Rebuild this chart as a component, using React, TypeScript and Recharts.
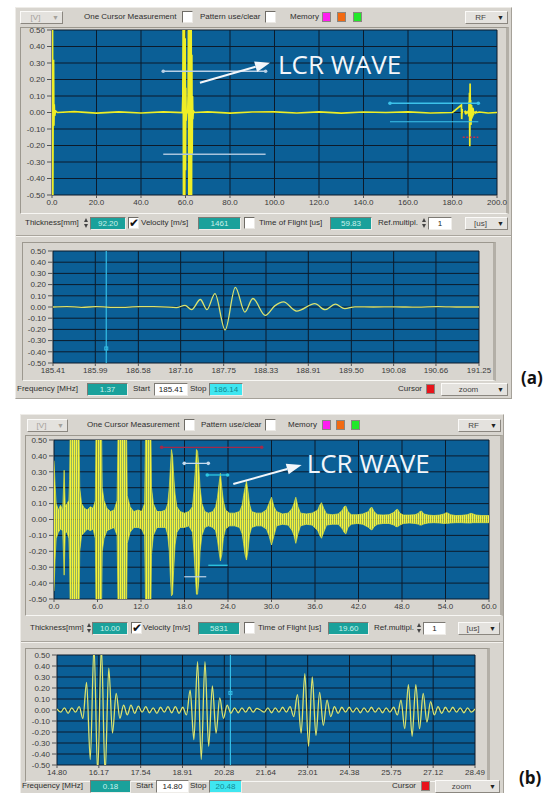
import React from 'react';
import {
  ComposedChart,
  Line,
  Area,
  XAxis,
  YAxis,
  CartesianGrid,
  ReferenceLine,
  ReferenceDot,
} from 'recharts';

// ---- panel (a), full A-scan 0..200 us: start pulse, echo pair near 60 us, small echo near 184 us
const scanATimes = [
  0, 0.12, 0.24, 0.36, 0.5, 0.7, 0.85, 1.0, 1.2, 1.6, 2.4, 10, 20, 30, 40, 50,
  58.6, 58.8, 58.95, 59.1, 59.25, 59.4, 59.55, 59.7, 59.85, 60.0, 60.15, 60.3, 60.5,
  61.0, 61.2, 61.35, 61.5, 61.65, 61.8, 61.95, 62.1, 62.25, 62.4, 62.55, 62.7, 62.85,
  63.0, 63.15, 63.3, 63.5, 64.0, 70, 80, 90, 100, 110, 120, 130, 140, 150, 160, 170,
  180, 184.0, 184.15, 184.3, 184.45, 184.6, 185.0,
];
const scanAValues = [
  0.58, -0.58, 0.58, -0.58, 0.04, 0.32, -0.08, 0.05, -0.02, 0.01, 0, 0.005, -0.004, 0.004, -0.003, 0.004,
  0, 0.1, 0.58, -0.58, 0.58, -0.58, 0.58, -0.58, 0.45, -0.35, 0.15, -0.05, 0.005,
  0, 0.12, 0.58, -0.58, 0.58, -0.58, 0.58, -0.58, 0.58, -0.58, 0.5, -0.58,
  0.35, -0.25, 0.1, -0.04, 0.01, 0, 0.004, -0.004, 0.003, 0.004, -0.003, 0.004, -0.004, 0.003, 0, 0.004,
  -0.003, 0, 0.045, -0.04, 0.02, 0, 0.003,
];
const scanATailTimes = [192, 196, 200];
const scanATailValues = [0.003, -0.003, 0];
const scanATicks = [0, 20, 40, 60, 80, 100, 120, 140, 160, 180, 200];

// ---- panel (a), zoom window 185.41..191.25 us (LCR echo)
const zoomATimes = [
  185.41, 185.6, 185.8, 186.0, 186.3, 186.6, 186.9, 187.1, 187.22, 187.31, 187.43, 187.52,
  187.63, 187.77, 187.91, 188.04, 188.15, 188.32, 188.45, 188.57, 188.75, 189.0, 189.14,
  189.28, 189.41, 189.55, 189.8, 190.1, 190.4, 190.69, 191.0, 191.25,
];
const zoomAValues = [
  0, 0.004, -0.003, 0.003, -0.004, 0.003, 0.002, -0.006, 0.015, -0.024, 0.067, -0.024,
  0.12, -0.205, 0.176, -0.045, 0.076, -0.075, 0.01, 0.045, -0.036, 0.03, -0.024,
  0.025, -0.015, 0.002, 0, 0.002, -0.002, 0.004, 0, 0,
];
const zoomATicks = [185.41, 185.99, 186.58, 187.16, 187.75, 188.33, 188.91, 189.5, 190.08, 190.66, 191.25];
const zoomACursor = 186.14;

// ---- panel (b), full A-scan 0..60 us, plotted as min/max envelope of the RF trace
const scanBTimes = [
  0, 0.15, 0.3, 0.6, 0.9, 1.2, 1.4, 1.55, 1.8, 2.05,
  2.15, 2.25, 3.45, 3.55, 3.8, 4.2, 4.6, 5.0, 5.4, 5.7,
  5.8, 6.55, 6.65, 6.9, 7.3, 7.8, 8.3, 8.7,
  8.85, 10.0, 10.1, 10.5, 11.0, 11.6, 12.1, 12.5,
  12.65, 13.35, 13.45, 13.7, 14.2, 14.8, 15.4, 15.7,
  15.9, 16.05, 16.2, 16.35, 16.5, 16.7, 16.95, 17.4, 18.0, 18.6, 19.1,
  19.3, 19.5, 19.65, 19.8, 19.95, 20.15, 20.4, 20.8, 21.3, 21.9, 22.3,
  22.55, 22.75, 22.95, 23.15, 23.35, 23.65, 24.2, 24.9, 25.6, 25.95,
  26.15, 26.35, 26.55, 26.75, 26.95, 27.25, 27.9, 28.6, 29.3,
  29.65, 30.0, 30.35, 30.7, 31.5, 32.3, 32.85,
  33.1, 33.35, 33.65, 34.0, 34.8, 35.6, 36.4,
  36.65, 36.9, 37.2, 37.6, 38.4, 39.2, 39.8,
  40.0, 40.25, 40.55, 41.0, 41.8, 42.6, 43.4,
  43.6, 43.85, 44.15, 44.6, 45.4, 46.2, 46.9,
  47.15, 47.4, 47.7, 48.2, 49.0, 49.8, 50.3,
  50.45, 50.7, 51.0, 51.6, 52.4, 53.2, 53.8,
  54.1, 54.35, 54.7, 55.4, 56.2, 57.0,
  57.5, 57.75, 58.2, 59.0, 60.0,
];
const scanBUpper = [
  0.37, 0.22, 0.1, 0.06, 0.09, 0.06, 0.31, 0.08, 0.1, 0.12,
  0.25, 0.6, 0.6, 0.2, 0.1, 0.07, 0.06, 0.08, 0.07, 0.12,
  0.6, 0.6, 0.2, 0.12, 0.07, 0.05, 0.06, 0.12,
  0.6, 0.6, 0.15, 0.08, 0.05, 0.06, 0.05, 0.1,
  0.6, 0.6, 0.2, 0.1, 0.05, 0.05, 0.06, 0.1,
  0.2, 0.32, 0.44, 0.4, 0.28, 0.16, 0.08, 0.05, 0.04, 0.05, 0.08,
  0.18, 0.32, 0.44, 0.43, 0.35, 0.2, 0.1, 0.05, 0.04, 0.05, 0.08,
  0.14, 0.22, 0.29, 0.2, 0.12, 0.06, 0.04, 0.04, 0.05, 0.09,
  0.15, 0.2, 0.24, 0.18, 0.1, 0.05, 0.04, 0.04, 0.06,
  0.1, 0.14, 0.08, 0.05, 0.035, 0.04, 0.07,
  0.1, 0.14, 0.08, 0.04, 0.035, 0.04, 0.06,
  0.09, 0.106, 0.07, 0.035, 0.03, 0.035, 0.06,
  0.08, 0.085, 0.05, 0.03, 0.03, 0.035, 0.05,
  0.07, 0.077, 0.05, 0.03, 0.028, 0.03, 0.045,
  0.06, 0.064, 0.04, 0.028, 0.028, 0.03, 0.04,
  0.05, 0.053, 0.035, 0.028, 0.025, 0.028, 0.035,
  0.043, 0.04, 0.03, 0.025, 0.026, 0.03,
  0.039, 0.036, 0.028, 0.025, 0.025,
];
const scanBLower = [
  -0.45, -0.25, -0.12, -0.08, -0.06, -0.07, -0.35, -0.08, -0.08, -0.12,
  -0.25, -0.6, -0.6, -0.2, -0.1, -0.08, -0.06, -0.07, -0.06, -0.12,
  -0.6, -0.6, -0.2, -0.12, -0.07, -0.06, -0.05, -0.1,
  -0.6, -0.6, -0.15, -0.08, -0.05, -0.05, -0.06, -0.1,
  -0.6, -0.6, -0.22, -0.1, -0.05, -0.05, -0.05, -0.1,
  -0.2, -0.36, -0.48, -0.47, -0.32, -0.16, -0.08, -0.05, -0.05, -0.04, -0.08,
  -0.2, -0.36, -0.47, -0.47, -0.4, -0.2, -0.1, -0.05, -0.04, -0.05, -0.07,
  -0.13, -0.2, -0.26, -0.22, -0.12, -0.06, -0.04, -0.04, -0.05, -0.09,
  -0.15, -0.22, -0.255, -0.2, -0.1, -0.05, -0.04, -0.04, -0.06,
  -0.1, -0.16, -0.1, -0.04, -0.03, -0.035, -0.07,
  -0.1, -0.15, -0.09, -0.04, -0.03, -0.035, -0.07,
  -0.1, -0.118, -0.08, -0.035, -0.03, -0.03, -0.06,
  -0.08, -0.091, -0.05, -0.03, -0.025, -0.03, -0.05,
  -0.06, -0.066, -0.045, -0.03, -0.025, -0.025, -0.035,
  -0.045, -0.045, -0.035, -0.025, -0.022, -0.025, -0.03,
  -0.035, -0.035, -0.028, -0.022, -0.02, -0.022, -0.025,
  -0.024, -0.024, -0.022, -0.02, -0.02, -0.022,
  -0.022, -0.02, -0.02, -0.02, -0.02,
];
const scanBTicks = [0, 6, 12, 18, 24, 30, 36, 42, 48, 54, 60];

// ---- panel (b), zoom window 14.80..28.49 us, one sample every zoomBStep us
const zoomBStart = 14.8;
const zoomBStep = 0.12115;
const zoomBSamples = [
  0.01, -0.02, 0.02, -0.03, 0.02, -0.02, 0.03, -0.076, 0.25, -0.45,
  0.58, -0.58, 0.58, -0.58, 0.38, -0.21, 0.15, -0.076, 0.045, -0.045,
  0.045, -0.03, 0.035, -0.02, 0.03, -0.025, 0.02, -0.03, 0.025, -0.02,
  0.03, -0.025, 0.03, -0.03, 0.025, -0.045, 0.18, -0.27, 0.44, -0.45,
  0.44, -0.33, 0.22, -0.21, 0.11, -0.076, 0.045, -0.03, 0.02, -0.025,
  0.02, -0.02, 0.025, -0.02, 0.015, 0, -0.02, 0.02, -0.025, 0.02,
  -0.02, 0.025, -0.02, 0.03, -0.06, 0.14, -0.21, 0.33, -0.33, 0.3,
  -0.23, 0.16, -0.14, 0.09, -0.06, 0.03, -0.03, 0.025, -0.02, 0.025,
  -0.02, 0.02, -0.025, 0.02, -0.02, 0.025, -0.02, 0.02, -0.025, 0.02,
  -0.02, 0.025, -0.045, 0.09, -0.17, 0.23, -0.24, 0.23, -0.17, 0.15,
  -0.11, 0.076, -0.045, 0.03, -0.03, 0.025, -0.02, 0.025, -0.02, 0.02,
  -0.025, 0.02, -0.02, 0.01,
];
const zoomBTicks = [14.8, 16.17, 17.54, 18.91, 20.28, 21.64, 23.01, 24.38, 25.75, 27.12, 28.49];
const zoomBCursor = 20.48;

const voltTicks = [-0.5, -0.4, -0.3, -0.2, -0.1, 0, 0.1, 0.2, 0.3, 0.4, 0.5];

const scanARows = [
  ...scanATimes.map((t, i) => ({ t, v: scanAValues[i] })),
  ...zoomATimes.map((t, i) => ({ t, v: zoomAValues[i] })),
  ...scanATailTimes.map((t, i) => ({ t, v: scanATailValues[i] })),
];
const zoomARows = zoomATimes.map((t, i) => ({ t, v: zoomAValues[i] }));
const scanBRows = scanBTimes.map((t, i) => ({ t, band: [scanBLower[i], scanBUpper[i]] }));
const zoomBRows = zoomBSamples.map((v, i) => ({ t: zoomBStart + i * zoomBStep, v }));

const PLOT_BG = '#0b5f96';
const GRID = '#0c1b2b';
const TRACE = '#eeee26';
const ZOOM_TRACE = '#dbe36e';
const CURSOR = '#35bfe6';
const PANEL = '#d8d5cf';
const UI_FONT = '"Liberation Sans", Arial, sans-serif';
const TICK = { fill: '#3a3a3a', fontSize: 8, fontFamily: UI_FONT };

// plot area is placed at (left, top) with the given size; axes sit outside it
const Scope = ({ left, top, plotW, plotH, domain, ticks, digits, data, children }: any) => {
  const yW = 40;
  const padT = 6;
  const padR = 14;
  const xH = 16;
  return (
    <div style={{ position: 'absolute', left: left - yW, top: top - padT }}>
      <ComposedChart
        width={yW + plotW + padR}
        height={padT + plotH + xH}
        data={data}
        margin={{ top: padT, right: padR, bottom: 0, left: 0 }}
      >
        <CartesianGrid fill={PLOT_BG} fillOpacity={1} stroke={GRID} strokeWidth={1} />
        <XAxis
          type="number"
          dataKey="t"
          domain={domain}
          ticks={ticks}
          interval={0}
          allowDataOverflow
          height={xH}
          axisLine={false}
          tickSize={3}
          tickMargin={1}
          tickLine={{ stroke: '#555' }}
          tick={TICK}
          tickFormatter={(v: number) => v.toFixed(digits)}
        />
        <YAxis
          type="number"
          domain={[-0.5, 0.5]}
          ticks={voltTicks}
          interval={0}
          allowDataOverflow
          width={yW}
          axisLine={false}
          tickSize={5}
          tickMargin={2}
          tickLine={{ stroke: '#555' }}
          tick={TICK}
          tickFormatter={(v: number) => v.toFixed(2)}
        />
        {children}
      </ComposedChart>
    </div>
  );
};

// straight marker line with optional end dots (gate / cursor markers)
const segmentShape = (color: string, width = 1.4, dots = true, dash?: string) => (p: any) => (
  <g>
    <line x1={p.x1} y1={p.y1} x2={p.x2} y2={p.y2} stroke={color} strokeWidth={width} strokeDasharray={dash} />
    {dots && <circle cx={p.x1} cy={p.y1} r={1.8} fill={color} />}
    {dots && <circle cx={p.x2} cy={p.y2} r={1.8} fill={color} />}
  </g>
);

const arrowShape = (p: any) => {
  const a = Math.atan2(p.y2 - p.y1, p.x2 - p.x1);
  const len = 15;
  const half = 5.5;
  const bx = p.x2 - len * Math.cos(a);
  const by = p.y2 - len * Math.sin(a);
  const nx = -Math.sin(a) * half;
  const ny = Math.cos(a) * half;
  return (
    <g>
      <line x1={p.x1} y1={p.y1} x2={bx} y2={by} stroke="#f3f6fa" strokeWidth={2} />
      <polygon points={`${p.x2},${p.y2} ${bx + nx},${by + ny} ${bx - nx},${by - ny}`} fill="#f3f6fa" />
    </g>
  );
};

const lcrLabel = (p: any) => (
  <text x={p.cx} y={p.cy} fill="#f3f6fa" fontSize={26} fontFamily='"Open Sans", sans-serif'>
    LCR WAVE
  </text>
);

const cursorMark = (p: any) => (
  <rect x={p.cx - 1.5} y={p.cy - 1.5} width={3} height={3} fill="none" stroke={CURSOR} strokeWidth={1} />
);

// ---------- instrument chrome ----------
const Txt = ({ x, cy, children, size = 8, color = '#2e2e2e', weight = 400, font = UI_FONT }: any) => (
  <div
    style={{
      position: 'absolute', left: x, top: cy - 7, height: 14, lineHeight: '14px',
      fontFamily: font, fontSize: size, color, fontWeight: weight, whiteSpace: 'nowrap',
    }}
  >
    {children}
  </div>
);

const FIELD: any = {
  teal: { background: '#1aa19b', color: '#c9f1ec' },
  white: { background: '#ffffff', color: '#222' },
  cyan: { background: '#3fe6f0', color: '#138a92' },
};

const Field = ({ x, cy, w, text, kind }: any) => (
  <div
    style={{
      position: 'absolute', left: x, top: cy - 6, width: w, height: 13, boxSizing: 'border-box',
      borderTop: '1px solid #7d7a74', borderLeft: '1px solid #7d7a74',
      borderRight: '1px solid #efede9', borderBottom: '1px solid #efede9',
      fontFamily: UI_FONT, fontSize: 8, lineHeight: '11px', textAlign: 'center',
      ...FIELD[kind],
    }}
  >
    {text}
  </div>
);

const Check = ({ x, cy, on }: any) => (
  <div
    style={{
      position: 'absolute', left: x, top: cy - 6, width: 11, height: 12, boxSizing: 'border-box',
      background: '#fff', borderTop: '1px solid #6f6c66', borderLeft: '1px solid #6f6c66',
      borderRight: '1px solid #ebe9e5', borderBottom: '1px solid #ebe9e5',
      fontFamily: '"DejaVu Sans", sans-serif', fontSize: 12, lineHeight: '10px', color: '#111',
      textAlign: 'center', overflow: 'visible',
    }}
  >
    {on ? '✔' : ''}
  </div>
);

const Drop = ({ x, cy, w, text, dim }: any) => (
  <div
    style={{
      position: 'absolute', left: x, top: cy - 6, width: w, height: 13, boxSizing: 'border-box',
      background: '#e4e2de', borderTop: '1px solid #fbfaf8', borderLeft: '1px solid #fbfaf8',
      borderRight: '1px solid #8b8780', borderBottom: '1px solid #8b8780',
      fontFamily: UI_FONT, fontSize: 8, lineHeight: '11px', color: dim ? '#a4a19b' : '#444',
    }}
  >
    <span style={{ position: 'absolute', left: 0, right: 12, textAlign: 'center' }}>{text}</span>
    <span style={{ position: 'absolute', right: 3, top: 0, fontSize: 7, color: dim ? '#a4a19b' : '#222' }}>▼</span>
  </div>
);

const Swatch = ({ x, cy, color }: any) => (
  <div
    style={{
      position: 'absolute', left: x, top: cy - 5, width: 9, height: 10, boxSizing: 'border-box',
      background: color, border: '1px solid #8a8680',
    }}
  />
);

const Spin = ({ x, cy }: any) => (
  <div style={{ position: 'absolute', left: x, top: cy - 6, width: 5, height: 12 }}>
    <div style={{ width: 0, height: 0, marginTop: 1, borderLeft: '2.5px solid transparent', borderRight: '2.5px solid transparent', borderBottom: '4px solid #444' }} />
    <div style={{ width: 0, height: 0, marginTop: 2, borderLeft: '2.5px solid transparent', borderRight: '2.5px solid transparent', borderTop: '4px solid #444' }} />
  </div>
);

const Panel = ({ x, y, w, h }: any) => (
  <div
    style={{
      position: 'absolute', left: x, top: y, width: w, height: h, boxSizing: 'border-box', background: PANEL,
      borderTop: '1px solid #eeece8', borderLeft: '1px solid #eeece8',
      borderRight: '1px solid #a5a199', borderBottom: '1px solid #a5a199',
    }}
  />
);

const Sunken = ({ x, y, w, h }: any) => (
  <div
    style={{
      position: 'absolute', left: x, top: y, width: w, height: h, boxSizing: 'border-box',
      borderTop: '1px solid #9c988f', borderLeft: '1px solid #9c988f',
      borderRight: '3px solid #b3afa7', borderBottom: '1px solid #f7f6f3',
    }}
  />
);

const Rule = ({ x, y, w }: any) => (
  <div style={{ position: 'absolute', left: x, top: y, width: w, height: 1, background: '#a9a59d', borderBottom: '1px solid #f4f2ee' }} />
);

const Toolbar = ({ y, vx, vw, one, chk1, pat, chk2, mem, sw, rf }: any) => (
  <>
    <Drop x={vx} cy={y} w={vw} text="[V]" dim />
    <Txt x={one} cy={y}>One Cursor Measurement</Txt>
    <Check x={chk1} cy={y} />
    <Txt x={pat} cy={y}>Pattern use/clear</Txt>
    <Check x={chk2} cy={y} />
    <Txt x={mem} cy={y}>Memory</Txt>
    <Swatch x={sw[0]} cy={y} color="#ff1ef0" />
    <Swatch x={sw[1]} cy={y} color="#f26a12" />
    <Swatch x={sw[2]} cy={y} color="#22e82a" />
    <Drop x={rf} cy={y} w={43} text="RF" />
  </>
);

export default function App() {
  return (
    <div style={{ position: 'absolute', left: 0, top: 0, width: 550, height: 793, overflow: 'hidden', background: '#fff' }}>
      {/* ================= (a) ================= */}
      <Panel x={15} y={7} w={497} h={392} />
      <Toolbar y={17} vx={20} vw={43} one={84} chk1={182} pat={200} chk2={265} mem={290} sw={[322, 337, 353]} rf={465} />
      <Sunken x={20} y={27} w={489} h={187} />

      <Txt x={25} cy={223}>Thickness[mm]</Txt>
      <Spin x={84} cy={223} />
      <Field x={90} cy={223} w={36} text="92.20" kind="teal" />
      <Check x={128} cy={223} on />
      <Txt x={141} cy={223}>Velocity [m/s]</Txt>
      <Field x={198} cy={223} w={43} text="1461" kind="teal" />
      <Check x={244} cy={223} />
      <Txt x={259} cy={223}>Time of Flight [us]</Txt>
      <Field x={330} cy={223} w={42} text="59.83" kind="teal" />
      <Txt x={378} cy={223}>Ref.multipl.</Txt>
      <Spin x={422} cy={223} />
      <Field x={428} cy={223} w={24} text="1" kind="white" />
      <Drop x={465} cy={223} w={43} text="[us]" />
      <Rule x={16} y={235} w={495} />

      <Sunken x={22} y={242} w={474} h={139} />
      <Txt x={17} cy={389}>Frequency [MHz]</Txt>
      <Field x={87} cy={389} w={41} text="1.37" kind="teal" />
      <Txt x={133} cy={389}>Start</Txt>
      <Field x={154} cy={389} w={34} text="185.41" kind="white" />
      <Txt x={190} cy={389}>Stop</Txt>
      <Field x={209} cy={389} w={34} text="186.14" kind="cyan" />
      <Txt x={398} cy={389}>Cursor</Txt>
      <Swatch x={426} cy={389} color="#e8141c" />
      <Drop x={441} cy={389} w={67} text="zoom" />
      <Txt x={521} cy={378} size={17} weight={700} color="#111" font='"Open Sans", sans-serif'>(a)</Txt>

      <Scope left={52} top={30} plotW={445} plotH={165} domain={[0, 200]} ticks={scanATicks} digits={1} data={scanARows}>
        <Line dataKey="v" type="linear" stroke={TRACE} strokeWidth={1.7} dot={false} isAnimationActive={false} />
        <ReferenceLine segment={[{ x: 50, y: 0.25 }, { x: 96, y: 0.25 }]} shape={segmentShape('#b8d0e6', 1.4)} />
        <ReferenceLine segment={[{ x: 50, y: -0.253 }, { x: 96, y: -0.253 }]} shape={segmentShape('#a9c4dc', 1.4, false)} />
        <ReferenceLine segment={[{ x: 151.9, y: 0.056 }, { x: 191.6, y: 0.056 }]} shape={segmentShape('#3cc2ea', 1.4)} />
        <ReferenceLine segment={[{ x: 151.9, y: -0.056 }, { x: 191.6, y: -0.056 }]} shape={segmentShape('#3cc2ea', 1.2, false)} />
        <ReferenceLine segment={[{ x: 184.6, y: -0.15 }, { x: 191.6, y: -0.15 }]} shape={segmentShape('#c2304c', 1.3, false, '2 1.5')} />
        <ReferenceLine segment={[{ x: 66.5, y: 0.18 }, { x: 98, y: 0.302 }]} shape={arrowShape} />
        <ReferenceDot x={101.6} y={0.233} r={1} shape={lcrLabel} />
      </Scope>

      <Scope left={53} top={251} plotW={426} plotH={112} domain={[185.41, 191.25]} ticks={zoomATicks} digits={2} data={zoomARows}>
        <ReferenceLine x={zoomACursor} stroke={CURSOR} strokeWidth={1.2} />
        <ReferenceDot x={zoomACursor} y={-0.37} r={2} shape={cursorMark} />
        <Line dataKey="v" type="monotone" stroke={ZOOM_TRACE} strokeWidth={1.3} dot={false} isAnimationActive={false} />
      </Scope>

      {/* ================= (b) ================= */}
      <Panel x={20} y={414} w={484} h={390} />
      <Toolbar y={425} vx={27} vw={41} one={87} chk1={184} pat={201} chk2={265} mem={288} sw={[322, 336, 351]} rf={458} />
      <Sunken x={25} y={435} w={478} h={181} />

      <Txt x={30} cy={628}>Thickness[mm]</Txt>
      <Spin x={87} cy={628} />
      <Field x={92} cy={628} w={36} text="10.00" kind="teal" />
      <Check x={131} cy={628} on />
      <Txt x={143} cy={628}>Velocity [m/s]</Txt>
      <Field x={198} cy={628} w={42} text="5831" kind="teal" />
      <Check x={244} cy={628} />
      <Txt x={258} cy={628}>Time of Flight [us]</Txt>
      <Field x={328} cy={628} w={41} text="19.60" kind="teal" />
      <Txt x={374} cy={628}>Ref.multipl.</Txt>
      <Spin x={417} cy={628} />
      <Field x={423} cy={628} w={23} text="1" kind="white" />
      <Drop x={458} cy={628} w={42} text="[us]" />
      <Rule x={21} y={641} w={482} />

      <Sunken x={25} y={648} w={465} h={134} />
      <Txt x={22} cy={786}>Frequency [MHz]</Txt>
      <Field x={90} cy={786} w={41} text="0.18" kind="teal" />
      <Txt x={136} cy={786}>Start</Txt>
      <Field x={156} cy={786} w={33} text="14.80" kind="white" />
      <Txt x={190} cy={786}>Stop</Txt>
      <Field x={209} cy={786} w={33} text="20.48" kind="cyan" />
      <Txt x={392} cy={786}>Cursor</Txt>
      <Swatch x={421} cy={786} color="#e8141c" />
      <Drop x={435} cy={786} w={65} text="zoom" />
      <Txt x={519} cy={778} size={17} weight={700} color="#111" font='"Open Sans", sans-serif'>(b)</Txt>

      <Scope left={54} top={440} plotW={435} plotH={159} domain={[0, 60]} ticks={scanBTicks} digits={1} data={scanBRows}>
        <defs>
          <pattern id="rfFill" width={2} height={8} patternUnits="userSpaceOnUse">
            <rect width={2} height={8} fill="#dadc3a" fillOpacity={0.62} />
            <rect width={1.1} height={8} fill="#f4f33c" />
          </pattern>
        </defs>
        <Area
          dataKey="band"
          type="linear"
          fill="url(#rfFill)"
          fillOpacity={1}
          stroke="#e6e83c"
          strokeWidth={0.7}
          dot={false}
          activeDot={false}
          isAnimationActive={false}
        />
        <ReferenceLine segment={[{ x: 14.85, y: 0.454 }, { x: 28.64, y: 0.454 }]} shape={segmentShape('#a3284a', 1.3)} />
        <ReferenceLine segment={[{ x: 17.97, y: 0.353 }, { x: 21.28, y: 0.353 }]} shape={segmentShape('#c6dbee', 1.3)} />
        <ReferenceLine segment={[{ x: 21.14, y: 0.28 }, { x: 23.95, y: 0.28 }]} shape={segmentShape('#2ec8e2', 1.3)} />
        <ReferenceLine segment={[{ x: 21.28, y: -0.288 }, { x: 23.95, y: -0.288 }]} shape={segmentShape('#2ec8e2', 1.3, false)} />
        <ReferenceLine segment={[{ x: 17.97, y: -0.36 }, { x: 21.0, y: -0.36 }]} shape={segmentShape('#b4cce2', 1.3, false)} />
        <ReferenceLine segment={[{ x: 24.73, y: 0.223 }, { x: 34.16, y: 0.343 }]} shape={arrowShape} />
        <ReferenceDot x={34.85} y={0.29} r={1} shape={lcrLabel} />
      </Scope>

      <Scope left={57} top={655} plotW={418} plotH={110} domain={[14.8, 28.49]} ticks={zoomBTicks} digits={2} data={zoomBRows}>
        <ReferenceLine x={zoomBCursor} stroke={CURSOR} strokeWidth={1.2} />
        <ReferenceDot x={zoomBCursor} y={0.155} r={2} shape={cursorMark} />
        <Line dataKey="v" type="monotone" stroke={ZOOM_TRACE} strokeWidth={1.3} dot={false} isAnimationActive={false} />
      </Scope>
    </div>
  );
}
